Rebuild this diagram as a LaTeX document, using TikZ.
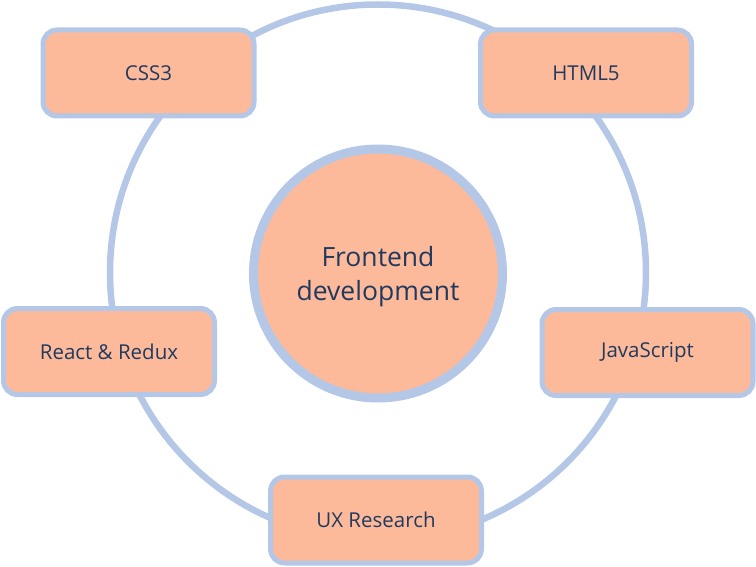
\documentclass[tikz,border=0pt]{standalone}
\usepackage{fontspec}
\setmainfont{Open Sans}
\definecolor{ringblue}{HTML}{B4C7E7}
\definecolor{peach}{HTML}{FDBA9B}
\definecolor{navy}{HTML}{203A5E}
\begin{document}
\begin{tikzpicture}[x=1pt,y=-1pt,
  topic/.style={draw=ringblue, line width=5pt, fill=peach, rounded corners=14pt,
    minimum width=211pt, minimum height=86pt, inner sep=0pt, text=navy,
    font=\fontsize{20.5}{24}\selectfont},
  hub/.style={circle, draw=ringblue, line width=9pt, fill=peach, minimum size=249pt,
    inner sep=0pt},
  hubtext/.style={text=navy, align=center, inner sep=0pt, yshift=-3pt,
    font=\fontsize{26.5}{34}\selectfont}]
\useasboundingbox (0,0) rectangle (756,567);
\draw[ringblue, line width=6.5pt] (378,272.5) circle[radius=268];
\node[hub, label={[hubtext]center:Frontend\\development}] (center) at (378,273.5) {};
\node[topic] (css) at (148.5,73) {CSS3};
\node[topic] (html) at (586,73) {HTML5};
\node[topic] (react) at (109,351.5) {React \& Redux};
\node[topic] (js) at (647.5,352.5) {JavaScript};
\node[topic] (ux) at (376,520) {UX Research};
\end{tikzpicture}
\end{document}
